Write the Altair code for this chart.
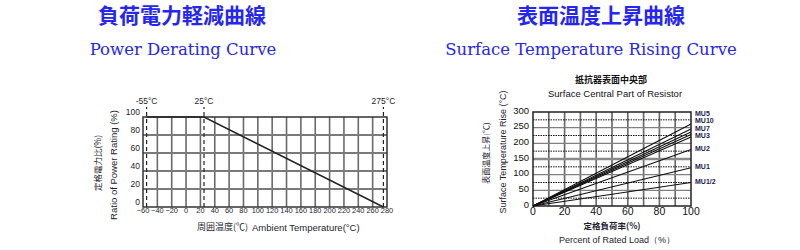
import altair as alt
import pandas as pd

# ---------------- data: Power Derating Curve ----------------
derate_temp = [-55, 25, 275]
derate_ratio = [100, 100, 0]
marker_temps = [-55, 25, 275]
marker_labels = ["-55°C", "25°C", "275°C"]
temp_ticks = list(range(-60, 281, 20))
ratio_ticks = [0, 20, 40, 60, 80, 100]

# ---------------- data: Surface Temperature Rising Curve ----------------
series_names = ["MU5", "MU10", "MU7", "MU3", "MU3b", "MU2", "MU1", "MU1/2"]
series_end_rise = [262, 246, 236, 228, 220, 180, 122, 75]
mu_labels = ["MU5", "MU10", "MU7", "MU3", "MU2", "MU1", "MU1/2"]
mu_label_rise = [293, 270, 247, 222, 182, 125, 77]
load_ticks = [0, 20, 40, 60, 80, 100]
load_grid = [10, 20, 30, 40, 50, 60, 70, 80, 90]
rise_ticks = [0, 50, 100, 150, 200, 250, 300]
rise_solid = [50, 100, 200, 250]
rise_thick = [150]
rise_dotted = [25, 75, 125, 175, 225, 275]

# ---------------- texts ----------------
title_cn = ["負荷電力軽減曲線", "表面温度上昇曲線"]
title_en = ["Power Derating Curve", "Surface Temperature Rising Curve"]
sub_cn = "抵抗器表面中央部"
sub_en = "Surface Central Part of Resistor"
left_ytitle = ["定格電力比(%)", "Ratio of Power Rating (%)"]
left_xtitle = ["周囲温度(℃)", "Ambient  Temperature(°C)"]
right_ytitle = ["表面温度上昇(℃)", "Surface Temperature Rise (°C)"]
right_xtitle = ["定格負荷率(%)", "Percent of Rated Load（%）"]

SANS = "Liberation Sans"
NARROW = "Liberation Sans Narrow, Liberation Sans"
CJK = "Noto Sans CJK JP"
SERIF = "DejaVu Serif"
INK = "#1e1e2e"
BLUE = "#2626f2"

xL = alt.Scale(domain=[-60, 280], range=[143, 387], nice=False, zero=False)
yL = alt.Scale(domain=[0, 100], range=[207, 117], nice=False, zero=False)
xR = alt.Scale(domain=[0, 100], range=[533, 691], nice=False, zero=False)
yR = alt.Scale(domain=[0, 300], range=[206, 112], nice=False, zero=False)


def qx(f, sc):
    return alt.X(f, type="quantitative", scale=sc, axis=None)


def qy(f, sc):
    return alt.Y(f, type="quantitative", scale=sc, axis=None)


def vrules(vals, lo, hi, xs, ys, **kw):
    df = pd.DataFrame({"v": vals, "lo": lo, "hi": hi})
    return alt.Chart(df).mark_rule(**kw).encode(
        x=qx("v", xs), y=qy("lo", ys), y2="hi:Q")


def hrules(vals, lo, hi, xs, ys, **kw):
    df = pd.DataFrame({"v": vals, "lo": lo, "hi": hi})
    return alt.Chart(df).mark_rule(**kw).encode(
        y=qy("v", ys), x=qx("lo", xs), x2="hi:Q")


def free_text(txt, x, y, **kw):
    df = pd.DataFrame({"t": [txt]})
    return alt.Chart(df).mark_text(**kw).encode(
        text="t:N", x=alt.value(x), y=alt.value(y))


# ---------------- left panel ----------------
left_layers = [
    vrules(temp_ticks[1:-1], 0, 100, xL, yL, color="#6a6a6a", strokeWidth=1.6),
    hrules(ratio_ticks[1:-1], -60, 280, xL, yL, color="#7a7a7a", strokeWidth=2),
    alt.Chart(pd.DataFrame({"a": [-60], "b": [280], "c": [0], "d": [100]}))
    .mark_rect(fillOpacity=0, stroke="#333333", strokeWidth=1.5)
    .encode(x=qx("a", xL), x2="b:Q", y=qy("c", yL), y2="d:Q"),
    vrules(marker_temps, 0, 111, xL, yL, color="#222222", strokeWidth=1.2,
           strokeDash=[4, 3]),
    alt.Chart(pd.DataFrame({"t": derate_temp, "r": derate_ratio}))
    .mark_line(color="#222222", strokeWidth=1.4)
    .encode(x=qx("t", xL), y=qy("r", yL)),
    alt.Chart(pd.DataFrame({"t": marker_temps, "lab": marker_labels, "y": 118}))
    .mark_text(font=NARROW, fontSize=8.5, color=INK, baseline="middle")
    .encode(x=qx("t", xL), y=qy("y", yL), text="lab:N"),
    alt.Chart(pd.DataFrame({"t": temp_ticks, "y": 0}))
    .mark_text(font=NARROW, fontSize=7.4, color=INK, baseline="middle", dy=3.5)
    .encode(x=qx("t", xL), y=qy("y", yL), text=alt.Text("t:Q", format="d")),
    alt.Chart(pd.DataFrame({"r": ratio_ticks, "x": -60}))
    .mark_text(font=NARROW, fontSize=8.5, color=INK, baseline="middle",
               align="right", dx=-3, dy=-5)
    .encode(x=qx("x", xL), y=qy("r", yL), text=alt.Text("r:Q", format="d")),
]
left = alt.layer(*left_layers)

# ---------------- right panel ----------------
lines_df = pd.DataFrame({
    "name": series_names * 2,
    "load": [0] * len(series_names) + [100] * len(series_names),
    "rise": [0] * len(series_names) + series_end_rise,
})
right_layers = [
    vrules(load_grid, 0, 300, xR, yR, color="#6a6a6a", strokeWidth=1.7),
    hrules(rise_solid, 0, 100, xR, yR, color="#808080", strokeWidth=1.4),
    hrules(rise_thick, 0, 100, xR, yR, color="#8a8a8a", strokeWidth=2.6),
    hrules(rise_dotted, 0, 100, xR, yR, color="#111111", strokeWidth=1,
           strokeDash=[1.5, 1]),
    alt.Chart(pd.DataFrame({"a": [0], "b": [100], "c": [0], "d": [300]}))
    .mark_rect(fillOpacity=0, stroke="#222222", strokeWidth=1.5)
    .encode(x=qx("a", xR), x2="b:Q", y=qy("c", yR), y2="d:Q"),
    alt.Chart(lines_df).mark_line(color="#111111", strokeWidth=1.1)
    .encode(x=qx("load", xR), y=qy("rise", yR), detail="name:N"),
    alt.Chart(pd.DataFrame({"lab": mu_labels, "r": mu_label_rise, "x": 100}))
    .mark_text(font=NARROW, fontSize=7, fontWeight="bold", color="#1a1a50",
               align="left", baseline="middle", dx=4)
    .encode(x=qx("x", xR), y=qy("r", yR), text="lab:N"),
    alt.Chart(pd.DataFrame({"l": load_ticks, "y": 0}))
    .mark_text(font=SANS, fontSize=10.5, color="#111111", baseline="middle", dy=6)
    .encode(x=qx("l", xR), y=qy("y", yR), text=alt.Text("l:Q", format="d")),
    alt.Chart(pd.DataFrame({"r": rise_ticks, "x": 0}))
    .mark_text(font=SANS, fontSize=9.5, color="#111111", baseline="middle",
               align="right", dx=-4, dy=-1.5)
    .encode(x=qx("x", xR), y=qy("r", yR), text=alt.Text("r:Q", format="d")),
]
right = alt.layer(*right_layers)

# ---------------- titles / axis titles ----------------
texts = [
    free_text(title_cn[0], 182, 17, font=CJK, fontSize=21, fontWeight="bold",
              color=BLUE, align="center", baseline="middle"),
    free_text(title_en[0], 183, 50, font=SERIF, fontSize=16.5, color=BLUE,
              align="center", baseline="middle"),
    free_text(title_cn[1], 601, 17, font=CJK, fontSize=21, fontWeight="bold",
              color=BLUE, align="center", baseline="middle"),
    free_text(title_en[1], 591, 50, font=SERIF, fontSize=16.5, color=BLUE,
              align="center", baseline="middle"),
    free_text(sub_cn, 611, 80, font=CJK, fontSize=9, fontWeight="bold",
              color="#111111", align="center", baseline="middle"),
    free_text(sub_en, 615, 94, font=SANS, fontSize=9.5, color="#111111",
              align="center", baseline="middle"),
    free_text(left_ytitle[0], 98, 163, font=CJK, fontSize=8.5, angle=270,
              color=INK, align="center", baseline="middle"),
    free_text(left_ytitle[1], 114, 165, font=SANS, fontSize=9.5, angle=270,
              color=INK, align="center", baseline="middle"),
    free_text(left_xtitle[0], 197, 227, font=CJK, fontSize=9, color=INK,
              align="left", baseline="middle"),
    free_text(left_xtitle[1], 252, 228, font=SANS, fontSize=9.5, color=INK,
              align="left", baseline="middle"),
    free_text(right_ytitle[0], 487, 153, font=CJK, fontSize=8, angle=270,
              color=INK, align="center", baseline="middle"),
    free_text(right_ytitle[1], 503, 152, font=SANS, fontSize=9, angle=270,
              color=INK, align="center", baseline="middle"),
    free_text(right_xtitle[0], 612, 226, font=CJK, fontSize=8.5,
              fontWeight="bold", color=INK, align="center", baseline="middle"),
    free_text(right_xtitle[1], 617, 240, font=SANS, fontSize=9, color=INK,
              align="center", baseline="middle"),
]

chart = (
    alt.layer(left, right, *texts)
    .resolve_scale(x="independent", y="independent")
    .properties(width=800, height=250,
                autosize=alt.AutoSizeParams(type="none"), padding=0,
                background="white")
    .configure_view(stroke=None)
)

chart.save("out.html", embed_options={"renderer": "svg", "actions": False})
